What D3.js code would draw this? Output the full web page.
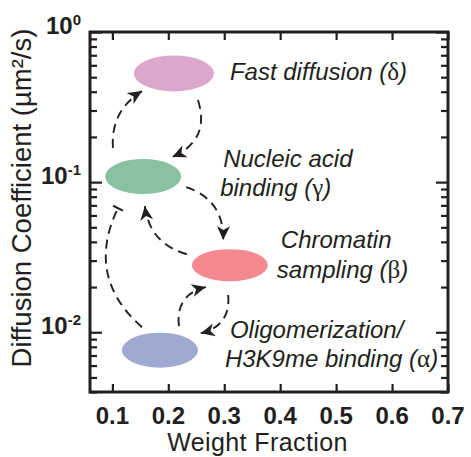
<!DOCTYPE html>
<html>
<head>
<meta charset="utf-8">
<script src="https://cdn.jsdelivr.net/npm/d3@7"></script>
<style>
  html, body { margin: 0; padding: 0; background: #fff; }
  svg { display: block; }
</style>
</head>
<body>
<svg id="chart" width="471" height="457"></svg>
<script>
// Diffusive states: weight fraction vs. diffusion coefficient
const stateKeys      = ["delta", "gamma", "beta", "alpha"];
const weightFraction = [0.21, 0.155, 0.31, 0.185];
const diffusionCoef  = [0.53, 0.109, 0.028, 0.0076];
const stateColors    = ["#dba8cc", "#88c2a1", "#f48a8f", "#9eaad2"];
const stateLabels    = [
  ["Fast diffusion (δ)"],
  ["Nucleic acid", "binding (γ)"],
  ["Chromatin", "sampling (β)"],
  ["Oligomerization/", "H3K9me binding (α)"]
];

// Transitions between states (start/end in data units)
const transFrom  = ["gamma", "delta", "gamma", "beta", "alpha", "beta", "alpha"];
const transTo    = ["delta", "gamma", "beta", "gamma", "beta", "alpha", "gamma"];
const transStart = [[0.101, 0.169], [0.253, 0.352], [0.232, 0.0926], [0.233, 0.0331],
                    [0.219, 0.0110], [0.307, 0.0177], [0.153, 0.0108]];
const transEnd   = [[0.153, 0.404], [0.207, 0.147], [0.298, 0.0411], [0.158, 0.0692],
                    [0.267, 0.0200], [0.258, 0.00985], [0.110, 0.0671]];
const transBend  = [-0.30, -0.45, -0.37, -0.33, -0.44, -0.43, -0.38];
const transHead  = ["arrow", "arrow", "arrow", "arrow", "arrow", "arrow", "bar"];

// Axes
const xDomain = [0.06, 0.7];
const yDomain = [0.004, 1];
const xTickValues = [0.1, 0.2, 0.3, 0.4, 0.5, 0.6, 0.7];
const yMajorTicks = [0.01, 0.1, 1];
const yMajorExp   = ["-2", "-1", "0"];
const xTitle = "Weight Fraction";
const yTitle = "Diffusion Coefficient (µm²/s)";

const ink = "#231f20";
const plot = { left: 90, right: 448, top: 32, bottom: 392 };
const sans = "'Liberation Sans', Arial, sans-serif";

const svg = d3.select("#chart");
const x = d3.scaleLinear().domain(xDomain).range([plot.left, plot.right]);
const y = d3.scaleLog().domain(yDomain).range([plot.bottom, plot.top]);

const defs = svg.append("defs");
defs.append("marker")
  .attr("id", "arrowhead")
  .attr("markerUnits", "userSpaceOnUse")
  .attr("viewBox", "-15 -8 17 16")
  .attr("markerWidth", 17).attr("markerHeight", 16)
  .attr("refX", 0).attr("refY", 0)
  .attr("orient", "auto")
  .append("path")
  .attr("d", "M0,0 L-14,-6.5 L-10,0 L-14,6.5 Z")
  .attr("fill", ink);
defs.append("marker")
  .attr("id", "bar")
  .attr("markerUnits", "userSpaceOnUse")
  .attr("viewBox", "-3 -7 6 14")
  .attr("markerWidth", 6).attr("markerHeight", 14)
  .attr("refX", 0).attr("refY", 0)
  .attr("orient", "auto")
  .append("line")
  .attr("x1", 0).attr("y1", -5.5).attr("x2", 0).attr("y2", 5.5)
  .attr("stroke", ink).attr("stroke-width", 2);

// Ticks (all inward)
const minorY = y.ticks().filter(v => !yMajorTicks.some(m => Math.abs(m - v) / m < 1e-6));
function styleAxis(g) {
  g.select(".domain").remove();
  g.selectAll("line").attr("stroke", ink).attr("stroke-width", 2.2);
  g.selectAll("text").remove();
}
svg.append("g").attr("transform", `translate(0,${plot.bottom})`)
  .call(d3.axisBottom(x).tickValues(xTickValues).tickSize(-8)).call(styleAxis);
svg.append("g").attr("transform", `translate(0,${plot.top})`)
  .call(d3.axisTop(x).tickValues(xTickValues).tickSize(-8)).call(styleAxis);
[[plot.left, d3.axisLeft], [plot.right, d3.axisRight]].forEach(([pos, ax]) => {
  svg.append("g").attr("transform", `translate(${pos},0)`)
    .call(ax(y).tickValues(yMajorTicks).tickSize(-12)).call(styleAxis);
  svg.append("g").attr("transform", `translate(${pos},0)`)
    .call(ax(y).tickValues(minorY).tickSize(-7)).call(styleAxis);
});

// Frame
svg.append("rect")
  .attr("x", plot.left).attr("y", plot.top)
  .attr("width", plot.right - plot.left).attr("height", plot.bottom - plot.top)
  .attr("fill", "none").attr("stroke", ink).attr("stroke-width", 3);

// Tick labels
svg.append("g").selectAll("text").data(xTickValues).join("text")
  .attr("x", d => x(d)).attr("y", 424)
  .attr("text-anchor", "middle")
  .attr("font-family", sans)
  .attr("font-weight", "bold").attr("font-size", 24)
  .attr("fill", ink)
  .text(d => d3.format(".1f")(d));

const yl = svg.append("g").selectAll("text").data(yMajorTicks).join("text")
  .attr("x", 81).attr("y", d => y(d) + 2)
  .attr("text-anchor", "end")
  .attr("font-family", sans)
  .attr("font-weight", "bold").attr("font-size", 24)
  .attr("fill", ink);
yl.append("tspan").text("10");
yl.append("tspan").attr("dy", -9).attr("font-size", 15)
  .text((d, i) => yMajorExp[i]);

// Axis titles
svg.append("text")
  .attr("x", 257.5).attr("y", 451)
  .attr("text-anchor", "middle")
  .attr("font-family", sans)
  .attr("font-size", 25).attr("letter-spacing", 0.4).attr("fill", ink)
  .text(xTitle);
svg.append("text")
  .attr("transform", "translate(31,198) rotate(-90)")
  .attr("text-anchor", "middle")
  .attr("font-family", sans)
  .attr("font-size", 27.5).attr("fill", ink)
  .text(yTitle);

// State ellipses
const stateSize = { rx: [40, 38, 38, 38], ry: [18, 17.5, 16, 17.5] };
svg.append("g").selectAll("ellipse").data(stateKeys).join("ellipse")
  .attr("cx", (d, i) => x(weightFraction[i]))
  .attr("cy", (d, i) => y(diffusionCoef[i]))
  .attr("rx", (d, i) => stateSize.rx[i])
  .attr("ry", (d, i) => stateSize.ry[i])
  .attr("fill", (d, i) => stateColors[i]);

// Transition arrows: quadratic curves bent sideways from the chord
const transitions = transFrom.map((f, i) => ({
  from: f, to: transTo[i], s: transStart[i], e: transEnd[i], bend: transBend[i], head: transHead[i]
}));
svg.append("g").selectAll("path").data(transitions).join("path")
  .attr("d", t => {
    const x0 = x(t.s[0]), y0 = y(t.s[1]), x1 = x(t.e[0]), y1 = y(t.e[1]);
    const dx = x1 - x0, dy = y1 - y0, len = Math.hypot(dx, dy);
    const nx = -dy / len, ny = dx / len;
    const cx = (x0 + x1) / 2 + nx * t.bend * len;
    const cy = (y0 + y1) / 2 + ny * t.bend * len;
    const p = d3.path();
    p.moveTo(x0, y0);
    p.quadraticCurveTo(cx, cy, x1, y1);
    return p.toString();
  })
  .attr("fill", "none")
  .attr("stroke", ink).attr("stroke-width", 1.9)
  .attr("stroke-dasharray", "9,6")
  .attr("marker-end", t => t.head === "bar" ? "url(#bar)" : "url(#arrowhead)");

// State labels (offsets from ellipse centres, px)
const labelOffsets = [
  [[56, 7]],
  [[80, -10], [77, 19]],
  [[51, -17], [47, 13]],
  [[70, -12], [65, 17]]
];
const lbl = svg.append("g")
  .attr("font-family", sans)
  .attr("font-size", 24).attr("font-style", "italic").attr("fill", ink);
stateLabels.forEach((lines, i) => {
  const cx = x(weightFraction[i]), cy = y(diffusionCoef[i]);
  lines.forEach((line, j) => {
    const t = lbl.append("text")
      .attr("x", cx + labelOffsets[i][j][0])
      .attr("y", cy + labelOffsets[i][j][1]);
    const m = line.match(/^(.*\()(.)(\))$/);
    if (m) {
      t.append("tspan").text(m[1]);
      t.append("tspan").attr("font-family", "'Liberation Serif', 'DejaVu Serif', serif")
        .attr("font-style", "normal").attr("font-size", 25).text(m[2]);
      t.append("tspan").text(m[3]);
    } else {
      t.text(line);
    }
  });
});
</script>
</body>
</html>
